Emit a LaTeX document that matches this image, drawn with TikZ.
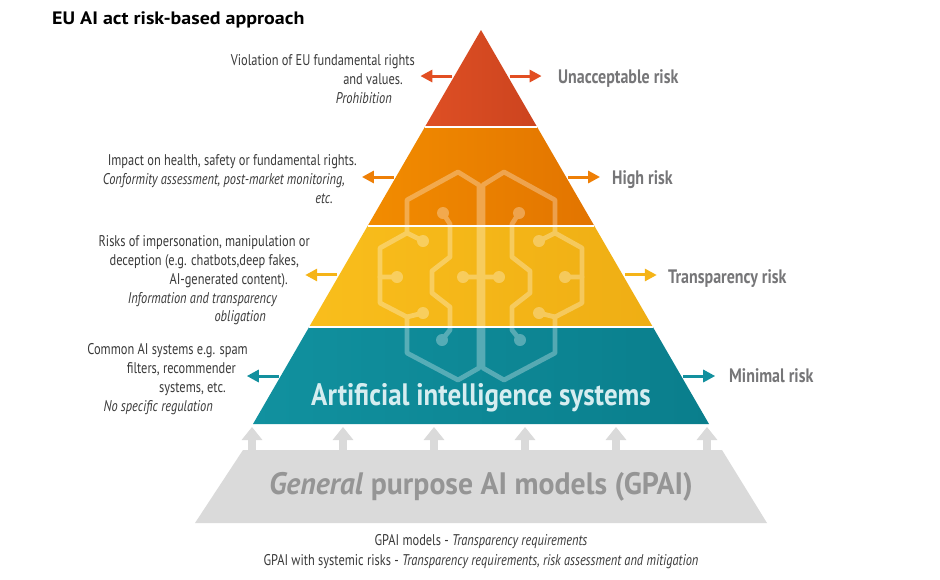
\documentclass[tikz,border=0pt]{standalone}
\usepackage{fontspec}
\setmainfont{PT Sans}
\newfontfamily\condfont[FakeStretch=0.80]{PT Sans}
\newfontfamily\labfont[FakeStretch=0.82]{PT Sans}
\newfontfamily\bigfont[FakeStretch=0.87]{PT Sans}
\newfontfamily\gpaifont[FakeStretch=0.96]{PT Sans}
\newfontfamily\titlefont[FakeStretch=1.11]{PT Sans}
\usetikzlibrary{arrows.meta,calc}
\definecolor{redA}{HTML}{DE4F24}\definecolor{redB}{HTML}{CC441F}
\definecolor{orA}{HTML}{F28C00}\definecolor{orB}{HTML}{E27400}
\definecolor{yeA}{HTML}{F9BE1C}\definecolor{yeB}{HTML}{EFAE14}
\definecolor{teA}{HTML}{11919F}\definecolor{teB}{HTML}{0A7E8C}
\definecolor{gpaibg}{HTML}{DADADA}\definecolor{gpaitxt}{HTML}{959595}
\definecolor{txtc}{HTML}{3A3A3A}\definecolor{riskc}{HTML}{767678}
\definecolor{aitxt}{HTML}{D6EDF0}
\definecolor{arrR}{HTML}{E24E22}\definecolor{arrO}{HTML}{EE7F06}
\definecolor{arrY}{HTML}{F5B418}\definecolor{arrT}{HTML}{13909E}
\tikzset{
  ltext/.style={font=\condfont\fontsize{15.5}{18}\selectfont, text=txtc, inner sep=0pt, anchor=base east},
  rlabel/.style={font=\labfont\bfseries\fontsize{19.5}{22}\selectfont, text=riskc, inner sep=0pt, anchor=base west},
  btext/.style={font=\condfont\fontsize{15.5}{18}\selectfont, text=txtc, inner sep=0pt, anchor=base},
  harrow/.style={-{Triangle[length=12pt,width=12pt]}, line width=3pt},
  garrow/.style={draw=gpaibg, line width=8pt, -{Triangle[length=13pt,width=20pt]}},
  brainline/.style={draw=white, line width=4.8pt, line join=round, line cap=round},
  braindot/.style={fill=white},
}
\newcommand\brainhalf{%
  \draw[brainline] (479,185) -- (458,172) -- (407,200) -- (407,233) -- (380,248) -- (380,303) -- (407,317) -- (407,353) -- (458,380) -- (479,368) -- cycle;
  \draw[brainline] (407,233) -- (423,241);
  \draw[brainline] (407,317) -- (423,313);
  \draw[brainline] (380,277) -- (397,277);
  \draw[brainline] (443,213) -- (450,224) -- (450,257) -- (432,271) -- (432,293) -- (450,307) -- (450,330) -- (442,340);
  \draw[brainline] (463,277) -- (479,277);
  \foreach \p in {(423,241),(423,313),(397,277),(443,213),(442,340),(463,277)} \fill[braindot] \p circle (6);
}
\begin{document}
\begin{tikzpicture}[x=1pt,y=-1pt]
\useasboundingbox (0,0) rectangle (940,579);
\fill[white] (0,0) rectangle (940,579);
% title
\node[font=\titlefont\bfseries\fontsize{18}{21}\selectfont, text=black, inner sep=0pt, anchor=base west] (title) at (52,24) {EU AI act risk-based approach};
% pyramid geometry
\coordinate (apex) at (481,30);
\coordinate (bl) at (253,424);
\coordinate (br) at (709,424);
\path (apex) -- (bl) coordinate[pos=0.2462] (l1) coordinate[pos=0.4975] (l2) coordinate[pos=0.7538] (l3)
  coordinate[pos=0.1168] (ea1) coordinate[pos=0.3731] (ea2) coordinate[pos=0.6218] (ea3) coordinate[pos=0.8782] (ea4);
\path (apex) -- (br) coordinate[pos=0.2462] (r1) coordinate[pos=0.4975] (r2) coordinate[pos=0.7538] (r3)
  coordinate[pos=0.1168] (eb1) coordinate[pos=0.3731] (eb2) coordinate[pos=0.6218] (eb3) coordinate[pos=0.8782] (eb4);
\shade[left color=redA, right color=redB] (apex) -- (l1) -- (r1) -- cycle;
\shade[left color=orA, right color=orB] (l1) -- (l2) -- (r2) -- (r1) -- cycle;
\shade[left color=yeA, right color=yeB] (l2) -- (l3) -- (r3) -- (r2) -- cycle;
\shade[left color=teA, right color=teB] (l3) -- (bl) -- (br) -- (r3) -- cycle;
\foreach \i in {1,2,3} \draw[white, line width=2pt] (l\i) -- (r\i);
% brain motif
\begin{scope}[transparency group, opacity=0.3]
  \brainhalf
  \begin{scope}[xshift=962pt, xscale=-1]
    \brainhalf
  \end{scope}
\end{scope}
% AI systems text
\node[font=\bigfont\bfseries\fontsize{31}{34}\selectfont, text=aitxt, inner sep=0pt, anchor=base] (ais) at (481,405) {Artificial intelligence systems};
% GPAI
\fill[gpaibg] (243,450) -- (722,450) -- (767,523) -- (195,523) -- cycle;
\node[font=\gpaifont\bfseries\fontsize{31}{34}\selectfont, text=gpaitxt, inner sep=0pt, anchor=base] (gpai) at (481,494) {\textit{General} purpose AI models (GPAI)};
\foreach \x [count=\k] in {252,343,434,525,616,707} {
  \coordinate (gs\k) at (\x,451);
  \coordinate (gt\k) at (\x,427);
  \draw[garrow] (gs\k) -- (gt\k);
}
% horizontal arrows
\foreach \i/\c in {1/arrR,2/arrO,3/arrY,4/arrT} {
  \coordinate (ta\i) at ($(ea\i)+(-34,0)$);
  \coordinate (tb\i) at ($(eb\i)+(34,0)$);
  \draw[harrow, draw=\c, fill=\c] ($(ea\i)+(-2,0)$) -- (ta\i);
  \draw[harrow, draw=\c, fill=\c] ($(eb\i)+(2,0)$) -- (tb\i);
}
% right labels
\node[rlabel] (rl1) at (558,83) {Unacceptable risk};
\node[rlabel] (rl2) at (612,184) {High risk};
\node[rlabel] (rl3) at (668,283) {Transparency risk};
\node[rlabel] (rl4) at (729,382) {Minimal risk};
% left texts
\node[ltext] (a1) at (415,65.5) {Violation of EU fundamental rights};
\node[ltext] (a2) at (403,84.5) {and values.};
\node[ltext] (a3) at (392,103) {\itshape Prohibition};
\node[ltext] (b1) at (357,165.7) {Impact on health, safety or fundamental rights.};
\node[ltext] (b2) at (345,184.3) {\itshape Conformity assessment, post-market monitoring,};
\node[ltext] (b3) at (333,203) {\itshape etc.};
\node[ltext] (c1) at (310,246) {Risks of impersonation, manipulation or};
\node[ltext] (c2) at (299,265) {deception (e.g. chatbots,deep fakes,};
\node[ltext] (c3) at (288,284) {AI-generated content).};
\node[ltext] (c4) at (277,303.3) {\itshape Information and transparency};
\node[ltext] (c5) at (266,321) {\itshape obligation};
\node[ltext] (d1) at (248,354.3) {Common AI systems e.g. spam};
\node[ltext] (d2) at (236,373.3) {filters, recommender};
\node[ltext] (d3) at (226,392.3) {systems, etc.};
\node[ltext] (d4) at (213,411) {\itshape No specific regulation};
% bottom texts
\node[btext] (e1) at (481,545.5) {GPAI models - \textit{Transparency requirements}};
\node[btext] (e2) at (481,565) {GPAI with systemic risks - \textit{Transparency requirements, risk assessment and mitigation}};
\end{tikzpicture}
\end{document}
